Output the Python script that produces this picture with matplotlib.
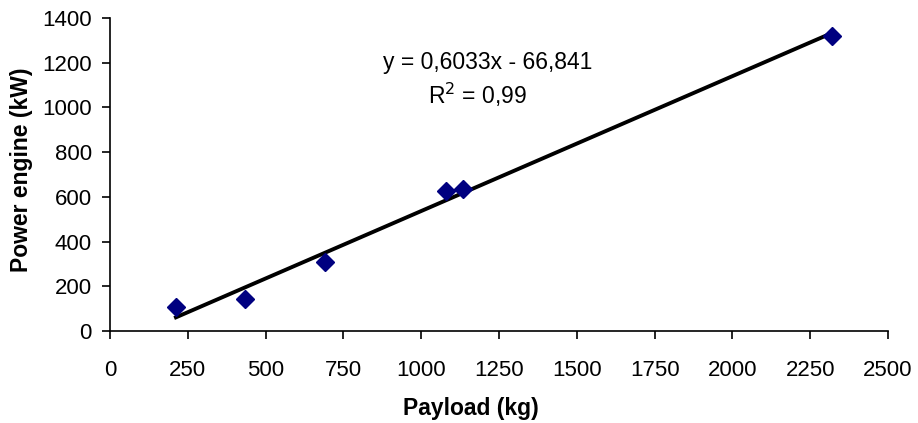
import matplotlib.pyplot as plt
import numpy as np

plt.rcParams['font.family'] = ['Liberation Sans', 'DejaVu Sans']

# data
payload = [212, 434, 691, 1079, 1135, 2319]
power = [109, 142, 310, 626, 635, 1321]
slope = 0.6033
intercept = -66.841
x_ticks = [0, 250, 500, 750, 1000, 1250, 1500, 1750, 2000, 2250, 2500]
y_ticks = [0, 200, 400, 600, 800, 1000, 1200, 1400]

fig = plt.figure(figsize=(9.18, 4.23), dpi=100)
ax = fig.add_axes([0.1198, 0.2175, 0.8475, 0.74])

# trendline over data range
xs = np.array([min(payload), max(payload)])
ax.plot(xs, slope * xs + intercept, color='black', lw=2.8, zorder=2)
ax.plot(payload, power, 'D', color='#000080', markersize=9, zorder=3)

ax.set_xlim(0, 2500)
ax.set_ylim(0, 1400)
ax.set_xticks(x_ticks)
ax.set_yticks(y_ticks)
ax.tick_params(labelsize=16, direction='out', length=6, width=1.2, pad=7)
ax.tick_params(axis='x', pad=15)
for s in ['top', 'right']:
    ax.spines[s].set_visible(False)
for s in ['left', 'bottom']:
    ax.spines[s].set_linewidth(1.2)

ax.set_xlabel('Payload (kg)', fontsize=16.5, fontweight='bold', va='center')
ax.xaxis.set_label_coords(0.464, -0.246)
ax.set_ylabel('Power engine (kW)', fontsize=16.5, fontweight='bold', va='center')
ax.yaxis.set_label_coords(-0.114, 0.514)

ax.text(0.486, 0.859, 'y = 0,6033x - 66,841', transform=ax.transAxes,
        ha='center', va='center', fontsize=16.5)
ax.text(0.473, 0.754, 'R$^2$ = 0,99', transform=ax.transAxes,
        ha='center', va='center', fontsize=16.5)

plt.savefig('out.png', dpi=100)
